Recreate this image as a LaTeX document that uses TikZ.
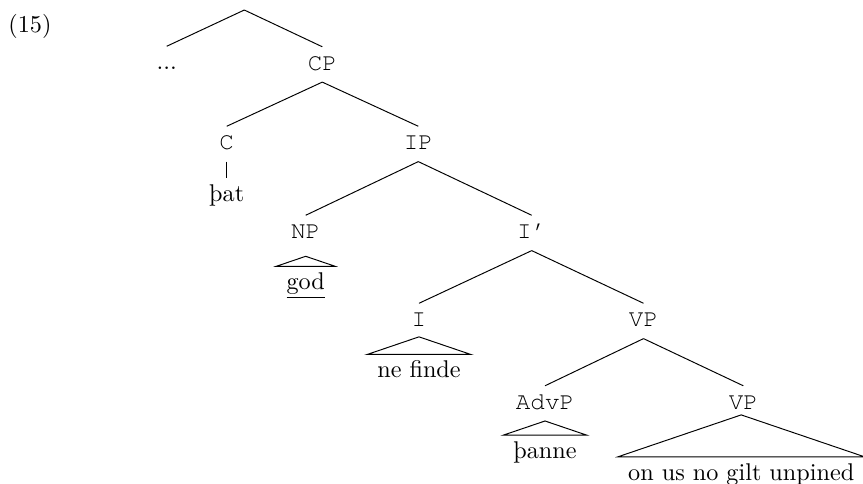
\documentclass[tikz,border=0pt]{standalone}
\usepackage{fontspec}
\setmonofont{TeX Gyre Cursor}
\usetikzlibrary{calc}
\tikzset{
  cat/.style={font=\ttfamily, anchor=base, text height=6.1pt, text depth=1.5pt, inner xsep=1pt, inner ysep=3.3pt},
  word/.style={anchor=base, text height=6.9pt, text depth=1.9pt, inner xsep=4pt, inner ysep=2.5pt}
}
% triangle over a phrase, same pitch for every roof
\newcommand{\roofover}[1]{\draw (#1.north west) -- ($(#1.north)!0.34!90:(#1.north east)$) -- (#1.north east) -- cycle;}

\begin{document}
\begin{tikzpicture}[x=0.4132pt, y=-0.4132pt]
  \useasboundingbox (0,0) rectangle (863,483);
  \node[anchor=base west, inner sep=0pt] (ex) at (8,32) {(15)};

  \coordinate (top) at (244.3,10);
  \node[cat] (dots) at (166.7,69.5) {\rmfamily ...};
  \node[cat] (cp) at (322.3,70) {CP};
  \draw (top) -- (dots.north); \draw (top) -- (cp.north);

  \node[cat] (c) at (226.7,149.5) {C};
  \node[cat] (ip) at (418.3,149.5) {IP};
  \draw (cp.south) -- (c.north); \draw (cp.south) -- (ip.north);
  \node[word] (that) at (226.7,201.5) {þat};
  \draw (c.south) -- (that.north);

  \node[cat] (np) at (305.7,238.5) {NP};
  \node[cat] (ibar) at (531.7,238.5) {I’};
  \draw (ip.south) -- (np.north); \draw (ip.south) -- (ibar.north);
  \node[word] (god) at (305.7,289.5) {\underline{god}};
  \roofover{god}

  \node[cat] (i) at (419,326.5) {I};
  \node[cat] (vp) at (643.5,326.5) {VP};
  \draw (ibar.south) -- (i.north); \draw (ibar.south) -- (vp.north);
  \node[word] (finde) at (419,377.7) {ne finde};
  \roofover{finde}

  \node[cat] (advp) at (545,409) {AdvP};
  \node[cat] (vpb) at (743.3,409) {VP};
  \draw (vp.south) -- (advp.north); \draw (vp.south) -- (vpb.north);
  \node[word] (thanne) at (545,458.4) {þanne};
  \roofover{thanne}
  \node[word] (gilt) at (741.2,480) {on us no gilt unpined};
  \roofover{gilt}
\end{tikzpicture}
\end{document}
